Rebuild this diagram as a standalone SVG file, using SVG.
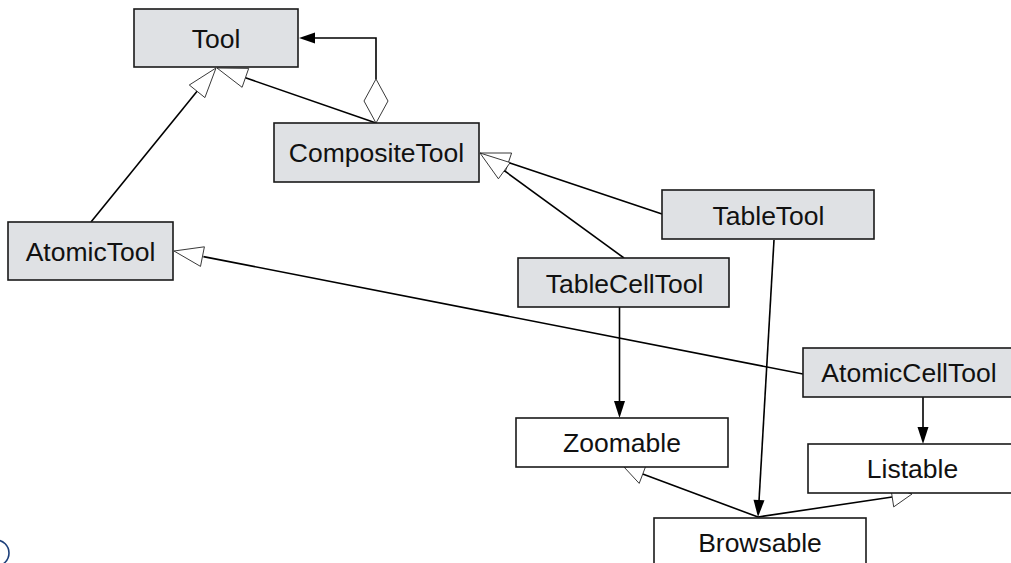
<svg xmlns="http://www.w3.org/2000/svg" width="1011" height="563" viewBox="0 0 1011 563">
  <defs>
    <style>
      .cls rect { stroke: #1a1a1a; stroke-width: 1.6; }
      .tool rect { fill: #dfe1e4; }
      .iface rect { fill: #ffffff; }
      .cls text { font-family: "Liberation Sans", Arial, sans-serif; font-size: 26.5px; fill: #111; text-anchor: middle; }
      .edge { fill: none; stroke: #000; stroke-width: 1.6; }
      .gen { fill: #fff; stroke: #222; stroke-width: 0.9; stroke-linejoin: miter; }
      .head { fill: #000; stroke: none; }
      .agg { fill: #fff; stroke: #222; stroke-width: 0.9; }
    </style>
  </defs>
  <rect width="1011" height="563" fill="#ffffff"/>

  <!-- connectors -->
  <g id="connectors">
    <!-- inheritance to Tool -->
    <line class="edge" x1="91" y1="222" x2="197.1" y2="91.3"/>
    <polygon class="gen" points="216,68 204.9,97.6 189.3,85"/>
    <line class="edge" x1="376" y1="123" x2="245.4" y2="77.8"/>
    <polygon class="gen" points="217,68 248.7,68.4 242.1,87.3"/>

    <!-- aggregation CompositeTool -> Tool -->
    <polygon class="agg" points="376,123 388,101 376,79 364,101"/>
    <polyline class="edge" points="376,79 376,38 314,38"/>
    <polygon class="head" points="299,38 315,32.5 315,43.5"/>

    <!-- inheritance to CompositeTool -->
    <line class="edge" x1="662" y1="214" x2="508.4" y2="162.5"/>
    <polygon class="gen" points="480,153 511.6,153 505.2,172"/>
    <line class="edge" x1="624" y1="258" x2="504.3" y2="170.7"/>
    <polygon class="gen" points="480,153 510.2,162.6 498.4,178.8"/>

    <!-- inheritance AtomicCellTool -> AtomicTool -->
    <line class="edge" x1="803" y1="374" x2="203.4" y2="256.6"/>
    <polygon class="gen" points="174,251 204.4,246.8 200.5,266.4"/>

    <!-- uses -->
    <line class="edge" x1="619.5" y1="307" x2="619.5" y2="402"/>
    <polygon class="head" points="619.5,418 614,401 625,401"/>
    <line class="edge" x1="923" y1="397" x2="923" y2="428"/>
    <polygon class="head" points="923,444 917.5,427 928.5,427"/>
    <line class="edge" x1="774" y1="240" x2="759" y2="501"/>
    <polygon class="head" points="758,517 753.5,499.7 764.5,500.3"/>

    <!-- Browsable realizes Zoomable / Listable -->
    <line class="edge" x1="758" y1="517" x2="642.7" y2="474"/>
    <polygon class="gen" points="624,467 646.2,465 639.2,483.4"/>
    <line class="edge" x1="758" y1="517" x2="892.2" y2="497"/>
    <polygon class="gen" points="912,494 893.7,506.9 890.7,487.1"/>
  </g>

  <!-- classes -->
  <g id="Tool" class="cls tool">
    <rect x="134" y="9" width="164" height="58"/>
    <text x="216" y="47.5">Tool</text>
  </g>
  <g id="CompositeTool" class="cls tool">
    <rect x="274" y="123" width="205" height="59"/>
    <text x="376.5" y="162">CompositeTool</text>
  </g>
  <g id="AtomicTool" class="cls tool">
    <rect x="8" y="222" width="165" height="58"/>
    <text x="90.5" y="260.5">AtomicTool</text>
  </g>
  <g id="TableTool" class="cls tool">
    <rect x="662" y="190" width="212" height="49"/>
    <text x="768.5" y="224.5">TableTool</text>
  </g>
  <g id="TableCellTool" class="cls tool">
    <rect x="518" y="258" width="211" height="49"/>
    <text x="624.5" y="292.5">TableCellTool</text>
  </g>
  <g id="AtomicCellTool" class="cls tool">
    <rect x="803" y="348" width="212" height="49"/>
    <text x="909" y="382">AtomicCellTool</text>
  </g>
  <g id="Zoomable" class="cls iface">
    <rect x="516" y="418" width="212" height="49"/>
    <text x="622" y="451.5">Zoomable</text>
  </g>
  <g id="Listable" class="cls iface">
    <rect x="808" y="444" width="210" height="49"/>
    <text x="912.5" y="477.5">Listable</text>
  </g>
  <g id="Browsable" class="cls iface">
    <rect x="654" y="518" width="212" height="49"/>
    <text x="760" y="552">Browsable</text>
  </g>

  <!-- corner emblem -->
  <g id="emblem">
    <circle cx="-4" cy="553" r="13" fill="none" stroke="#1c3f7a" stroke-width="1.6"/>
  </g>
</svg>
